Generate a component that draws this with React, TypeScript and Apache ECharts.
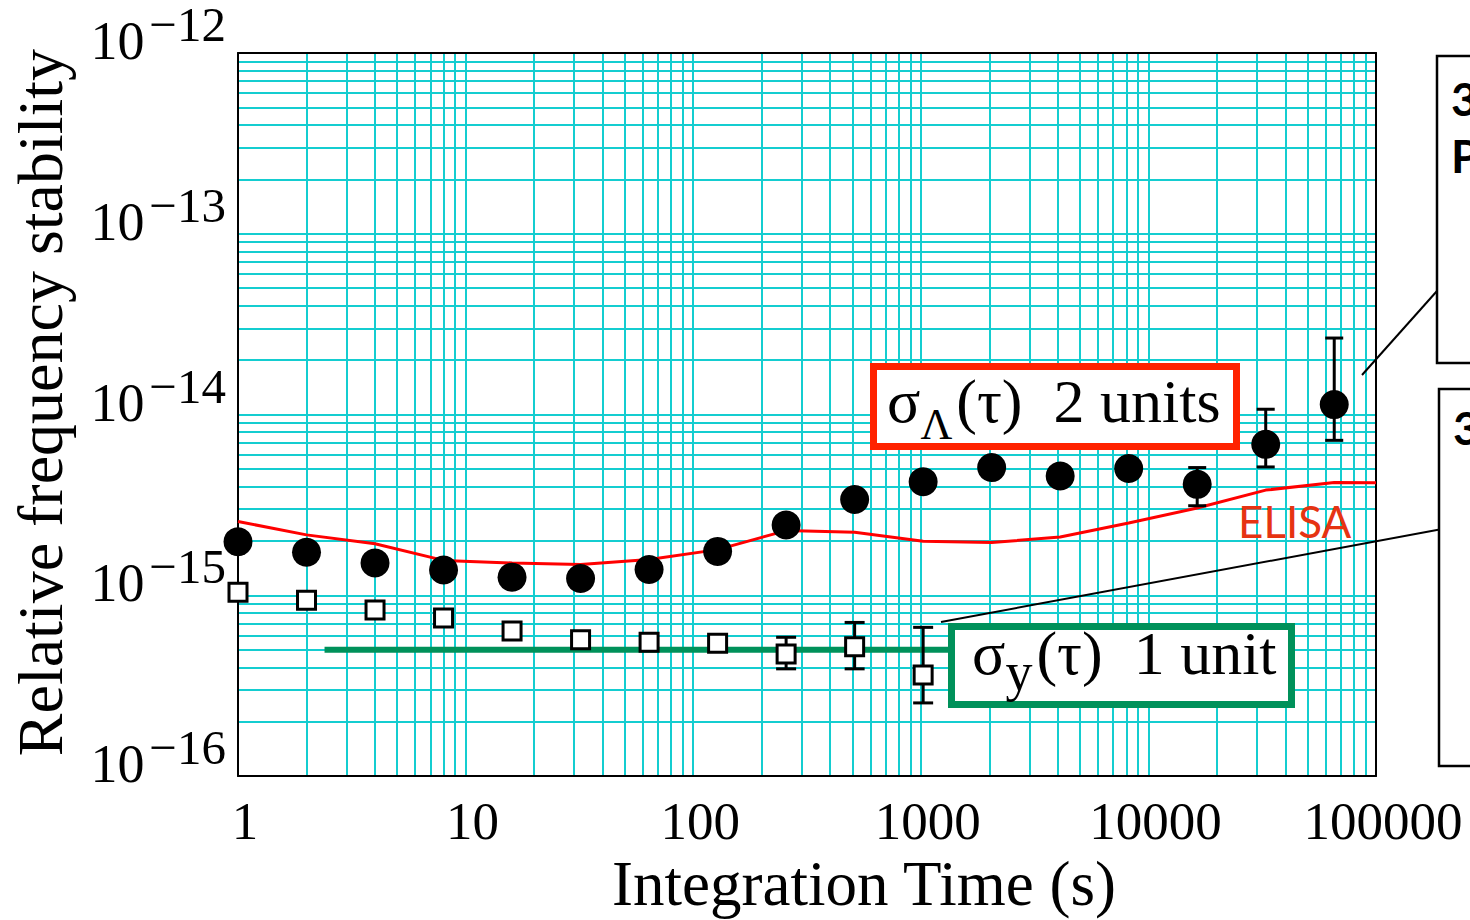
import React, { useEffect, useRef } from 'react';
import * as echarts from 'echarts';

// y values are plotted in units of 1e-16 so that the log axis minor grid (2..9 per decade) works
const Y_UNIT = 1e-16;

const xTickLabels = ['1', '10', '100', '1000', '10000', '100000'];
const yTickExponents = ['\u221216', '\u221215', '\u221214', '\u221213', '\u221212'];

// sigma_Lambda(tau), 2 units (filled circles)
const tauCircles = [1, 2, 4, 8, 16, 32, 64, 128, 256, 512, 1024, 2048, 4096, 8192, 16384, 32768, 65536];
const sigmaLambda = [
  1.98e-15, 1.73e-15, 1.51e-15, 1.38e-15, 1.26e-15, 1.24e-15, 1.39e-15, 1.75e-15, 2.45e-15,
  3.39e-15, 4.25e-15, 5.09e-15, 4.57e-15, 5.03e-15, 4.11e-15, 6.84e-15, 1.135e-14,
];
const circleErrTau = [16384, 32768, 65536];
const circleErrLow = [3.13e-15, 5.13e-15, 7.2e-15];
const circleErrHigh = [5.09e-15, 1.07e-14, 2.65e-14];

// sigma_y(tau), 1 unit (open squares)
const tauSquares = [1, 2, 4, 8, 16, 32, 64, 128, 256, 512, 1024];
const sigmaY = [1.04e-15, 9.39e-16, 8.3e-16, 7.48e-16, 6.34e-16, 5.68e-16, 5.5e-16, 5.43e-16, 4.74e-16, 5.2e-16, 3.63e-16];
const squareErrTau = [256, 512, 1024];
const squareErrLow = [3.92e-16, 3.92e-16, 2.54e-16];
const squareErrHigh = [5.86e-16, 7.08e-16, 6.65e-16];

// ELISA reference curve
const tauElisa = [1, 2, 4, 8, 16, 32, 64, 128, 256, 512, 1024, 2048, 4096, 8192, 16384, 32768, 65536, 100000];
const elisa = [
  2.56e-15, 2.16e-15, 1.93e-15, 1.56e-15, 1.51e-15, 1.48e-15, 1.58e-15, 1.79e-15, 2.28e-15,
  2.23e-15, 1.99e-15, 1.96e-15, 2.1e-15, 2.51e-15, 3.04e-15, 3.82e-15, 4.21e-15, 4.19e-15,
];

// green level line (sigma_y 1 unit target)
const greenTau = [2.4, 1500];
const greenLevel = [5e-16, 5e-16];

const CYAN = '#14CDD0';
const SERIF = '"Liberation Serif", "Times New Roman", serif';
const s = (v: number) => v / Y_UNIT;

function errorBar(capHalf: number) {
  return (params: any, api: any) => {
    const x = api.value(0);
    const lo = api.coord([x, api.value(1)]);
    const hi = api.coord([x, api.value(2)]);
    const st = { stroke: '#000', lineWidth: 3 };
    return {
      type: 'group',
      children: [
        { type: 'line', shape: { x1: lo[0], y1: lo[1], x2: hi[0], y2: hi[1] }, style: st },
        { type: 'line', shape: { x1: lo[0] - capHalf, y1: lo[1], x2: lo[0] + capHalf, y2: lo[1] }, style: st },
        { type: 'line', shape: { x1: hi[0] - capHalf, y1: hi[1], x2: hi[0] + capHalf, y2: hi[1] }, style: st },
      ],
    };
  };
}

export default function App() {
  const ref = useRef<HTMLDivElement>(null);
  useEffect(() => {
    if (!ref.current) return;
    const chart = echarts.init(ref.current, null, { renderer: 'svg' });
    const frameAxis = { show: true, lineStyle: { color: '#000', width: 2 } };
    const option: any = {
      animation: false,
      backgroundColor: '#fff',
      grid: { left: 234, top: 50, right: 94, bottom: 142 },
      xAxis: [
        {
          type: 'log',
          logBase: 10,
          min: 1,
          max: 100000,
          position: 'bottom',
          axisLine: frameAxis,
          axisTick: { show: false },
          axisLabel: {
            formatter: (v: number) => xTickLabels[Math.round(Math.log10(v))],
            fontFamily: SERIF,
            fontSize: 53,
            color: '#000',
            margin: 18,
            padding: [0, 0, 0, 14],
            showMinLabel: true,
            showMaxLabel: true,
          },
          splitLine: { show: true, lineStyle: { color: CYAN, width: 2 } },
          minorTick: { show: false, splitNumber: 9 },
          minorSplitLine: { show: true, lineStyle: { color: CYAN, width: 2 } },
          name: 'Integration Time (s)',
          nameLocation: 'middle',
          nameGap: 68,
          nameTextStyle: { fontFamily: SERIF, fontSize: 63, color: '#000', padding: [0, 0, 0, 114] },
        },
        {
          type: 'log',
          min: 1,
          max: 100000,
          position: 'top',
          axisLine: frameAxis,
          axisTick: { show: false },
          axisLabel: { show: false },
          splitLine: { show: false },
        },
      ],
      yAxis: [
        {
          type: 'log',
          logBase: 10,
          min: 1,
          max: 10000,
          position: 'left',
          axisLine: frameAxis,
          axisTick: { show: false },
          axisLabel: {
            formatter: (v: number) => `{b|10}{s|${yTickExponents[Math.round(Math.log10(v))]}}`,
            margin: 12,
            padding: [0, 0, 24, 0],
            showMinLabel: true,
            showMaxLabel: true,
            rich: {
              b: { fontFamily: SERIF, fontSize: 54, lineHeight: 54, color: '#000', verticalAlign: 'bottom' },
              s: { fontFamily: SERIF, fontSize: 49, lineHeight: 49, color: '#000', verticalAlign: 'bottom', padding: [0, 0, 19, 5] },
            },
          },
          splitLine: { show: true, lineStyle: { color: CYAN, width: 2 } },
          minorTick: { show: false, splitNumber: 9 },
          minorSplitLine: { show: true, lineStyle: { color: CYAN, width: 2 } },
          name: 'Relative frequency stability',
          nameLocation: 'middle',
          nameGap: 166,
          nameTextStyle: { fontFamily: SERIF, fontSize: 64, color: '#000', padding: [0, 0, 0, 24] },
        },
        {
          type: 'log',
          min: 1,
          max: 10000,
          position: 'right',
          axisLine: frameAxis,
          axisTick: { show: false },
          axisLabel: { show: false },
          splitLine: { show: false },
        },
      ],
      series: [
        {
          name: 'ELISA',
          type: 'line',
          data: tauElisa.map((t, i) => [t, s(elisa[i])]),
          showSymbol: false,
          lineStyle: { color: '#FF0000', width: 3 },
          z: 2,
        },
        {
          name: 'σy level',
          type: 'line',
          data: greenTau.map((t, i) => [t, s(greenLevel[i])]),
          showSymbol: false,
          lineStyle: { color: '#00915A', width: 6 },
          z: 3,
        },
        {
          name: 'σΛ error',
          type: 'custom',
          renderItem: errorBar(9),
          data: circleErrTau.map((t, i) => [t, s(circleErrLow[i]), s(circleErrHigh[i])]),
          encode: { x: 0, y: [1, 2] },
          z: 4,
        },
        {
          name: 'σy error',
          type: 'custom',
          renderItem: errorBar(10),
          data: squareErrTau.map((t, i) => [t, s(squareErrLow[i]), s(squareErrHigh[i])]),
          encode: { x: 0, y: [1, 2] },
          z: 4,
        },
        {
          name: 'σΛ(τ) 2 units',
          type: 'scatter',
          data: tauCircles.map((t, i) => [t, s(sigmaLambda[i])]),
          symbol: 'circle',
          symbolSize: 29,
          itemStyle: { color: '#000', opacity: 1 },
          z: 5,
        },
        {
          name: 'σy(τ) 1 unit',
          type: 'scatter',
          data: tauSquares.map((t, i) => [t, s(sigmaY[i])]),
          symbol: 'rect',
          symbolSize: 18,
          itemStyle: { color: '#fff', borderColor: '#000', borderWidth: 3, opacity: 1 },
          z: 5,
        },
      ],
      graphic: [
        // leader lines to the cut-off panels on the right
        { type: 'line', z: 100, shape: { x1: 1362, y1: 375, x2: 1445, y2: 282 }, style: { stroke: '#000', lineWidth: 2 } },
        { type: 'line', z: 100, shape: { x1: 941, y1: 622, x2: 1453, y2: 527 }, style: { stroke: '#000', lineWidth: 2 } },
        { type: 'rect', z: 100, shape: { x: 1437, y: 56, width: 120, height: 307 }, style: { stroke: '#000', lineWidth: 2.5, fill: '#fff' } },
        { type: 'rect', z: 100, shape: { x: 1439, y: 389, width: 120, height: 377 }, style: { stroke: '#000', lineWidth: 2.5, fill: '#fff' } },
        { type: 'text', z: 101, x: 1451, y: 98, style: { text: '3', fontFamily: 'Lato', fontWeight: 'bold', fontSize: 46, fill: '#000', align: 'left', verticalAlign: 'middle' } },
        { type: 'text', z: 101, x: 1451, y: 155, style: { text: 'P', fontFamily: 'Lato', fontWeight: 'bold', fontSize: 46, fill: '#000', align: 'left', verticalAlign: 'middle' } },
        { type: 'text', z: 101, x: 1453, y: 427, style: { text: '3', fontFamily: 'Lato', fontWeight: 'bold', fontSize: 46, fill: '#000', align: 'left', verticalAlign: 'middle' } },
        // ELISA label
        { type: 'text', z: 101, x: 1238, y: 521, style: { text: 'ELISA', fontFamily: 'Lato', fontSize: 44, fill: '#E63312', align: 'left', verticalAlign: 'middle' } },
        // red annotation box
        { type: 'rect', z: 100, shape: { x: 873.5, y: 366.5, width: 363, height: 80 }, style: { stroke: '#FF2200', lineWidth: 7, fill: '#fff' } },
        {
          type: 'text', z: 101, x: 887, y: 446,
          style: {
            text: '{a|σ}{sub|Λ}{a|(τ)  2 units}',
            align: 'left', verticalAlign: 'bottom',
            rich: {
              a: { fontFamily: SERIF, fontSize: 62, lineHeight: 62, fill: '#000', verticalAlign: 'bottom', padding: [0, 0, 14, 0] },
              sub: { fontFamily: SERIF, fontSize: 44, lineHeight: 44, fill: '#000', verticalAlign: 'bottom', padding: [0, 4, 0, 0] },
            },
          },
        },
        // green annotation box
        { type: 'rect', z: 100, shape: { x: 951.5, y: 626.5, width: 340, height: 78 }, style: { stroke: '#00915A', lineWidth: 7, fill: '#fff' } },
        {
          type: 'text', z: 101, x: 972, y: 699,
          style: {
            text: '{a|σ}{sub|y}{a|(τ)  1 unit}',
            align: 'left', verticalAlign: 'bottom',
            rich: {
              a: { fontFamily: SERIF, fontSize: 62, lineHeight: 62, fill: '#000', verticalAlign: 'bottom', padding: [0, 0, 15, 0] },
              sub: { fontFamily: SERIF, fontSize: 54, lineHeight: 54, fill: '#000', verticalAlign: 'bottom', padding: [0, 4, 0, 0] },
            },
          },
        },
      ],
    };
    chart.setOption(option);
    return () => chart.dispose();
  }, []);
  return (
    <div
      ref={ref}
      style={{ position: 'fixed', left: 0, top: 0, width: 1470, height: 920, background: '#fff' }}
    />
  );
}
